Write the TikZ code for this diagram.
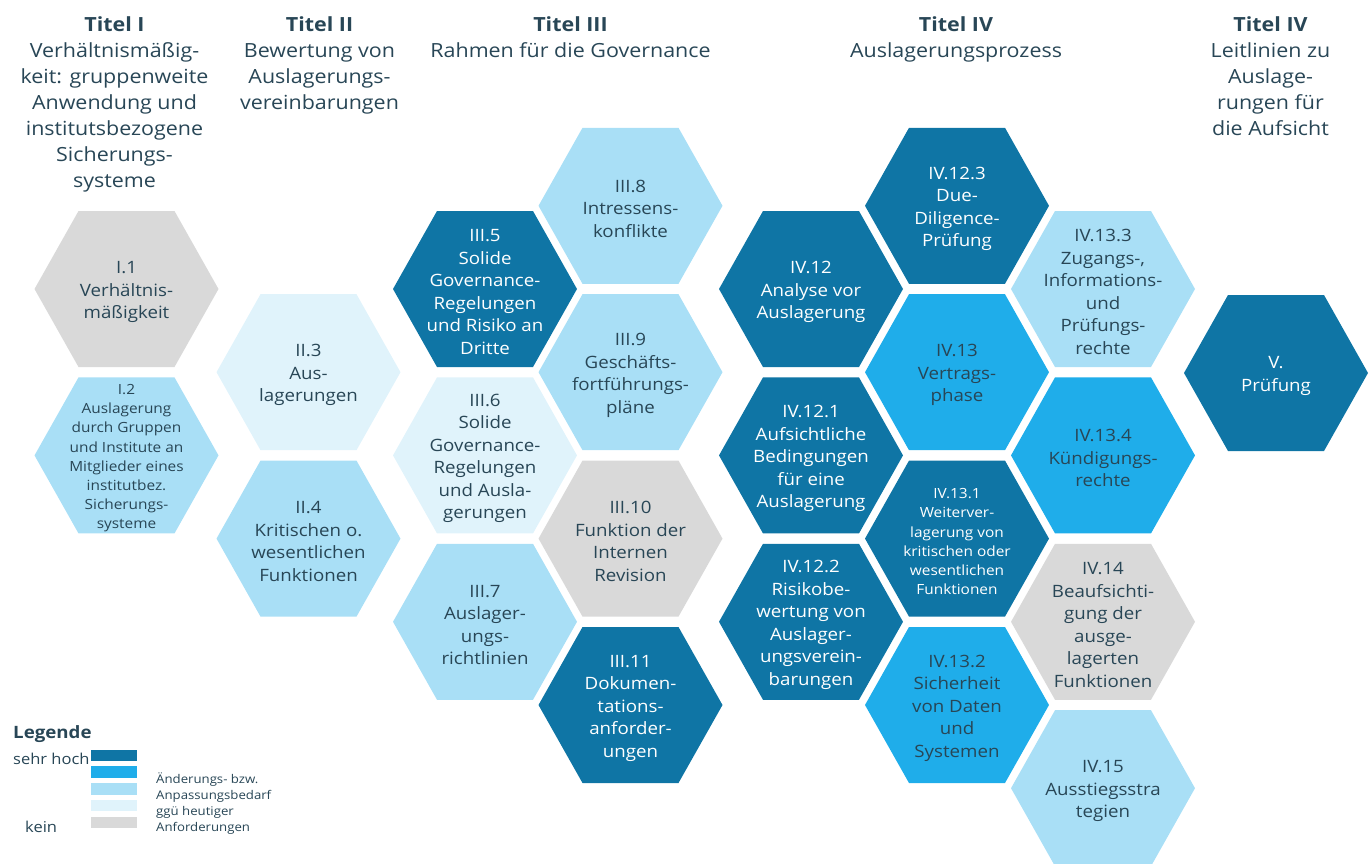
\documentclass[tikz,border=0pt]{standalone}
\usepackage{fontspec}
\setmainfont{Open Sans}[FakeStretch=1.1]
\definecolor{cA}{RGB}{15,117,165}
\definecolor{cB}{RGB}{31,173,234}
\definecolor{cC}{RGB}{169,223,246}
\definecolor{cD}{RGB}{224,243,251}
\definecolor{cE}{RGB}{217,217,217}
\definecolor{ink}{RGB}{40,70,86}
\newcommand\hexcell[6]{%
  \fill[#4] (#2-92,#3) -- (#2-48,#3-78) -- (#2+48,#3-78) -- (#2+92,#3) -- (#2+48,#3+78) -- (#2-48,#3+78) -- cycle;
  \node[#5] (#1) at (#2,#3+3) {#6};
}
\begin{document}
\begin{tikzpicture}[x=1pt,y=-1pt,
  hexd/.style={align=center,inner sep=0pt,text=ink,font=\fontsize{17}{22.5}\selectfont},
  hexw/.style={hexd,text=white},
  hexds/.style={hexd,font=\fontsize{14}{19.2}\selectfont},
  hexws/.style={hexds,text=white},
  ttl/.style={align=center,inner sep=0pt,anchor=north,text=ink,font=\fontsize{19.5}{26}\selectfont},
  swatch/.style={minimum width=46pt,minimum height=11.5pt,inner sep=0pt,anchor=north west}]
\useasboundingbox (0,0) rectangle (1369,864);
% titles
\node[ttl] (t1) at (114.5,16) {\textbf{Titel I}\\Verhältnismäßig-\\keit: gruppenweite\\Anwendung und\\institutsbezogene\\Sicherungs-\\systeme};
\node[ttl] (t2) at (319.5,16) {\textbf{Titel II}\\Bewertung von\\Auslagerungs-\\vereinbarungen};
\node[ttl] (t3) at (570.5,16) {\textbf{Titel III}\\Rahmen für die Governance};
\node[ttl] (t4) at (956,16) {\textbf{Titel IV}\\Auslagerungsprozess};
\node[ttl] (t5) at (1270.5,16) {\textbf{Titel IV}\\Leitlinien zu\\Auslage-\\rungen für\\die Aufsicht};
% column I
\hexcell{h11}{126.5}{289}{cE}{hexd}{I.1\\Verhältnis-\\mäßigkeit}
\hexcell{h12}{126.5}{455.4}{cC}{hexds}{I.2\\Auslagerung\\durch Gruppen\\und Institute an\\Mitglieder eines\\institutbez.\\Sicherungs-\\systeme}
% column II
\hexcell{h23}{308.5}{372.2}{cD}{hexd}{II.3\\Aus-\\lagerungen}
\hexcell{h24}{308.5}{538.6}{cC}{hexd}{II.4\\Kritischen o.\\wesentlichen\\Funktionen}
% column III
\hexcell{h35}{485}{289}{cA}{hexw}{III.5\\Solide\\Governance-\\Regelungen\\und Risiko an\\Dritte}
\hexcell{h36}{485}{455.4}{cD}{hexd}{III.6\\Solide\\Governance-\\Regelungen\\und Ausla-\\gerungen}
\hexcell{h37}{485}{621.8}{cC}{hexd}{III.7\\Auslager-\\ungs-\\richtlinien}
\hexcell{h38}{630.5}{205.8}{cC}{hexd}{III.8\\Intressens-\\konflikte}
\hexcell{h39}{630.5}{372.2}{cC}{hexd}{III.9\\Geschäfts-\\fortführungs-\\pläne}
\hexcell{h310}{630.5}{538.6}{cE}{hexd}{III.10\\Funktion der\\Internen\\Revision}
\hexcell{h311}{630.5}{705}{cA}{hexw}{III.11\\Dokumen-\\tations-\\anforder-\\ungen}
% column IV
\hexcell{h412}{811}{289}{cA}{hexw}{IV.12\\Analyse vor\\Auslagerung}
\hexcell{h4121}{811}{455.4}{cA}{hexw}{IV.12.1\\Aufsichtliche\\Bedingungen\\für eine\\Auslagerung}
\hexcell{h4122}{811}{621.8}{cA}{hexw}{IV.12.2\\Risikobe-\\wertung von\\Auslager-\\ungsverein-\\barungen}
\hexcell{h4123}{957}{205.8}{cA}{hexw}{IV.12.3\\Due-\\Diligence-\\Prüfung}
\hexcell{h413}{957}{372.2}{cB}{hexd}{IV.13\\Vertrags-\\phase}
\hexcell{h4131}{957}{538.6}{cA}{hexws}{IV.13.1\\Weiterver-\\lagerung von\\kritischen oder\\wesentlichen\\Funktionen}
\hexcell{h4132}{957}{705}{cB}{hexd}{IV.13.2\\Sicherheit\\von Daten\\und\\Systemen}
\hexcell{h4133}{1103}{289}{cC}{hexd}{IV.13.3\\Zugangs-,\\Informations-\\und\\Prüfungs-\\rechte}
\hexcell{h4134}{1103}{455.4}{cB}{hexd}{IV.13.4\\Kündigungs-\\rechte}
\hexcell{h414}{1103}{621.8}{cE}{hexd}{IV.14\\Beaufsichti-\\gung der\\ausge-\\lagerten\\Funktionen}
\hexcell{h415}{1103}{788.2}{cC}{hexd}{IV.15\\Ausstiegsstra\\tegien}
% column V
\hexcell{h5}{1276}{373}{cA}{hexw}{V.\\Prüfung}
% legend
\node[anchor=west,inner sep=0pt,text=ink,font=\fontsize{17}{20}\selectfont\bfseries] (lg) at (13,734) {Legende};
\node[anchor=west,inner sep=0pt,text=ink,font=\fontsize{15}{18}\selectfont] (lhi) at (13,758.5) {sehr hoch};
\node[anchor=west,inner sep=0pt,text=ink,font=\fontsize{15}{18}\selectfont] (llo) at (25,826.5) {kein};
\node[swatch,fill=cA] (s1) at (91,749.5) {};
\node[swatch,fill=cB] (s2) at (91,766.2) {};
\node[swatch,fill=cC] (s3) at (91,782.9) {};
\node[swatch,fill=cD] (s4) at (91,799.6) {};
\node[swatch,fill=cE] (s5) at (91,816.3) {};
\node[anchor=north west,align=left,inner sep=0pt,text=ink,font=\fontsize{12}{15.9}\selectfont] (ldesc) at (156,773) {Änderungs- bzw.\\Anpassungsbedarf\\ggü heutiger\\Anforderungen};
\end{tikzpicture}
\end{document}
